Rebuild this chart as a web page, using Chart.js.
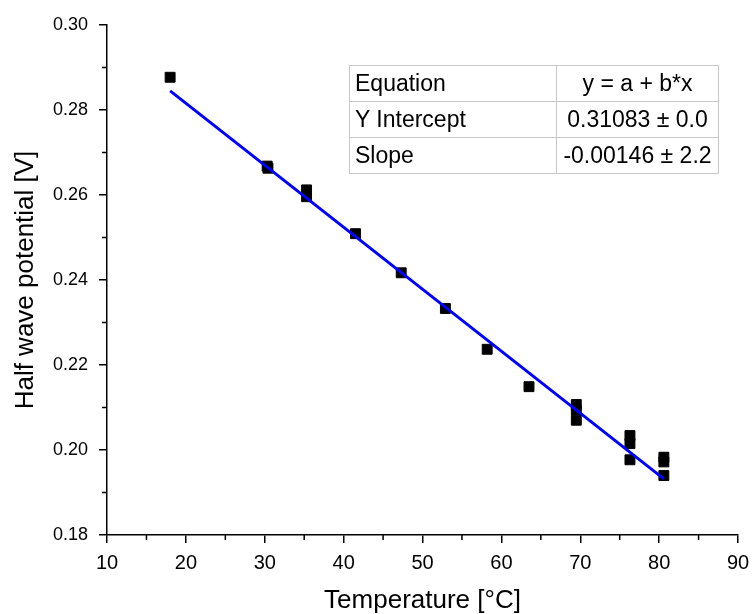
<!DOCTYPE html>
<html>
<head>
<meta charset="utf-8">
<script src="https://cdn.jsdelivr.net/npm/chart.js@4"></script>
<style>
  body { margin: 0; background: #fff; }
  #wrap { position: relative; width: 753px; height: 614px; }
  #fitTable {
    position: absolute; left: 349px; top: 65px;
    border-collapse: collapse; border: 1px solid #555;
    font-family: "Liberation Sans", Arial, sans-serif; font-size: 23px; color: #000;
  }
  #fitTable td { border: 1px solid #c8c8c8; height: 35px; padding: 0; line-height: 35px; }
  #fitTable td.k { width: 201px; text-align: left; padding-left: 5px; }
  #fitTable td.v { width: 161px; text-align: center; }
</style>
</head>
<body>
<div id="wrap">
  <canvas id="grafiek" width="753" height="614"></canvas>
  <table id="fitTable"></table>
</div>
<script>
// meetpunten
const temperatures = [18.0, 30.3, 30.4, 35.3, 35.3, 41.5, 47.3, 52.9, 58.2, 63.5,
                      69.5, 69.5, 69.5, 76.3, 76.3, 76.3, 80.6, 80.6, 80.6];
const potentials = [0.2877, 0.2668, 0.2663, 0.2612, 0.2596, 0.2509, 0.2417, 0.2333, 0.2237, 0.2149,
                    0.2107, 0.2094, 0.2070, 0.2034, 0.2015, 0.1977, 0.1983, 0.1972, 0.1940];

// lineaire fit, begin- en eindpunt
const fitTemps = [18.0, 80.6];
const fitPotentials = [0.2845, 0.1932];

const tableRows = [
    ['Equation', 'y = a + b*x'],
    ['Y Intercept', '0.31083 \u00b1 0.0'],
    ['Slope', '-0.00146 \u00b1 2.2']
];

const xTicks = [10, 20, 30, 40, 50, 60, 70, 80, 90];
const yTicks = [0.18, 0.20, 0.22, 0.24, 0.26, 0.28, 0.30];

const table = document.getElementById('fitTable');
tableRows.forEach(r => {
    const tr = document.createElement('tr');
    tr.innerHTML = '<td class="k">' + r[0] + '</td><td class="v">' + r[1] + '</td>';
    table.appendChild(tr);
});

const font = "'Liberation Sans', Arial, sans-serif";

// kleine tussenstreepjes op de assen
const minorTicks = {
    id: 'minorTicks',
    afterDraw(chart) {
        const ctx = chart.ctx;
        const xs = chart.scales.x, ys = chart.scales.y;
        ctx.save();
        ctx.strokeStyle = '#000';
        ctx.lineWidth = 1.5;
        ctx.beginPath();
        for (let i = 0; i < xTicks.length - 1; i++) {
            const px = xs.getPixelForValue((xTicks[i] + xTicks[i + 1]) / 2);
            ctx.moveTo(px, ys.bottom);
            ctx.lineTo(px, ys.bottom + 5);
        }
        for (let i = 0; i < yTicks.length - 1; i++) {
            const py = ys.getPixelForValue((yTicks[i] + yTicks[i + 1]) / 2);
            ctx.moveTo(xs.left, py);
            ctx.lineTo(xs.left - 5, py);
        }
        ctx.stroke();
        ctx.restore();
    }
};

const ctx = document.getElementById('grafiek').getContext('2d');
new Chart(ctx, {
    type: 'scatter',
    data: {
        datasets: [{
            label: 'Fit',
            type: 'line',
            data: fitTemps.map((t, i) => ({ x: t, y: fitPotentials[i] })),
            borderColor: '#0000ff',
            borderWidth: 3,
            pointRadius: 0,
            fill: false,
            order: 0
        }, {
            label: 'Data',
            data: temperatures.map((t, i) => ({ x: t, y: potentials[i] })),
            pointStyle: 'rect',
            pointRadius: 7,
            pointBorderWidth: 1,
            backgroundColor: '#000',
            borderColor: '#000',
            order: 1
        }]
    },
    options: {
        responsive: false,
        animation: false,
        layout: { padding: { left: 13, top: 25, right: 15, bottom: 0 } },
        plugins: { legend: { display: false }, tooltip: { enabled: false } },
        scales: {
            x: {
                type: 'linear',
                min: 10, max: 90,
                afterBuildTicks: s => { s.ticks = xTicks.map(v => ({ value: v })); },
                afterFit: s => { s.paddingRight = 0; },
                ticks: { color: '#000', font: { family: font, size: 20 }, padding: 8 },
                grid: { drawOnChartArea: false, drawTicks: true, tickLength: 8, color: '#000', lineWidth: 1.5 },
                border: { display: true, color: '#000', width: 1.5 },
                title: { display: true, text: 'Temperature [\u00b0C]', color: '#000', font: { family: font, size: 26, lineHeight: 1 }, padding: { top: 5, bottom: 0 } }
            },
            y: {
                type: 'linear',
                min: 0.18, max: 0.30,
                afterBuildTicks: s => { s.ticks = yTicks.map(v => ({ value: v })); },
                ticks: { color: '#000', font: { family: font, size: 18 }, padding: 11, callback: v => v.toFixed(2) },
                grid: { drawOnChartArea: false, drawTicks: true, tickLength: 8, color: '#000', lineWidth: 1.5 },
                border: { display: true, color: '#000', width: 1.5 },
                title: { display: true, text: 'Half wave potential [V]', color: '#000', font: { family: font, size: 26, lineHeight: 1 }, padding: { top: 0, bottom: 3 } }
            }
        }
    },
    plugins: [minorTicks]
});
</script>
</body>
</html>
